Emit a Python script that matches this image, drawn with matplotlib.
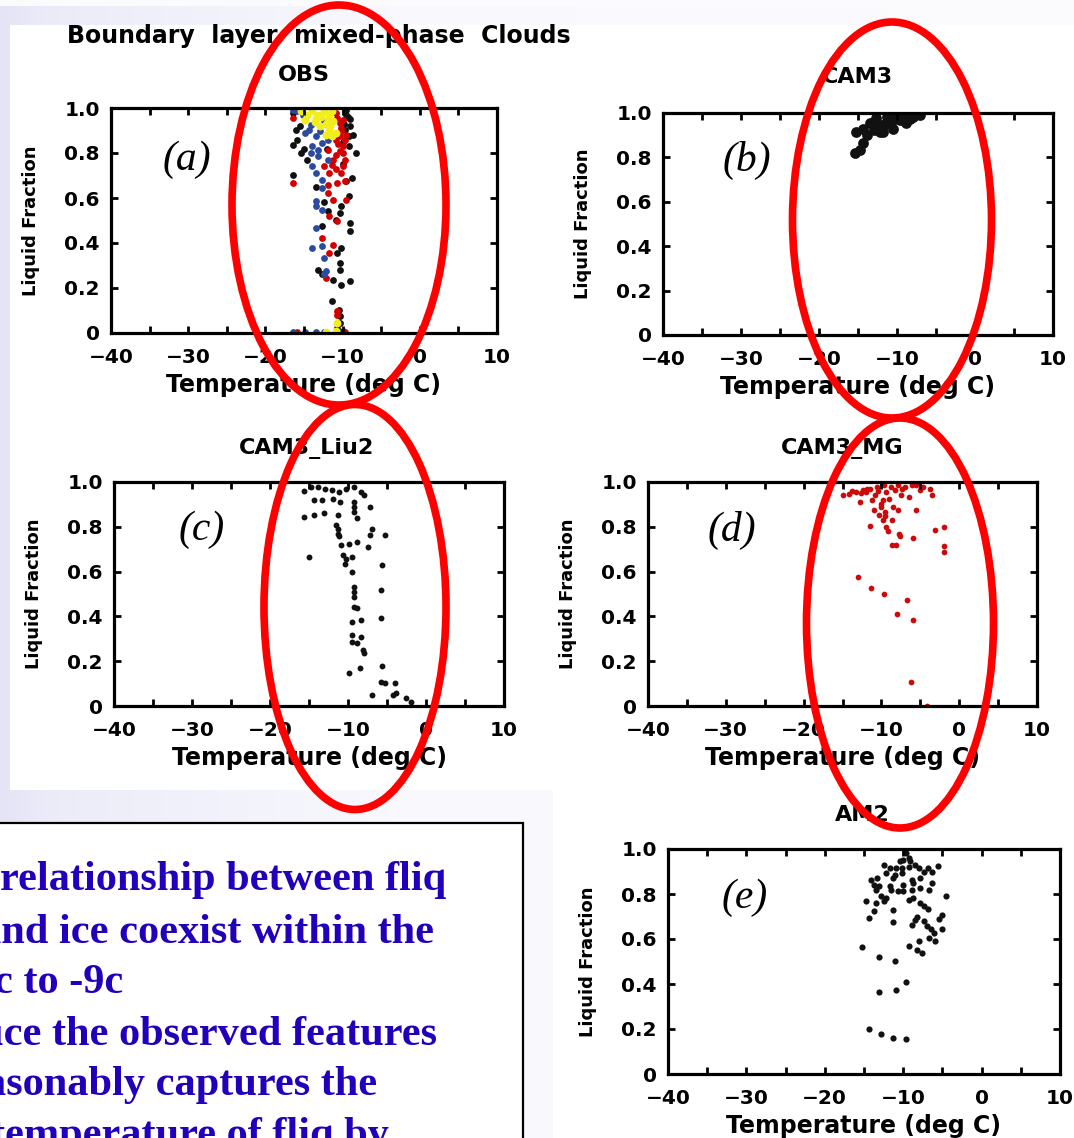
import numpy as np
import matplotlib
matplotlib.use("Agg")
import matplotlib.pyplot as plt
from matplotlib.patches import Ellipse, Rectangle

W, H = 1074, 1138

# ---------------- data (temperature in deg C, liquid fraction) ----------------
# (a) OBS, four colours of points
a_black_T = [-16.4, -9.5, -9.0, -9.2, -15.9, -16.4, -15.4, -8.2, -16.4, -9.5, -13.4, -9.2,
             -12.4, -10.2, -11.9, -10.4, -10.9, -9.0, -9.0, -12.7, -10.2, -10.7, -10.4, -10.4,
             -13.2, -12.7, -11.2, -10.2, -9.1, -11.4, -10.5, -10.4, -10.3, -9.9, -10.7, -9.0,
             -9.7, -10.0, -15.5, -15.0, -12.0, -8.7, -9.6, -16.0, -14.6, -9.3, -9.8, -9.2,
             -10.0, -8.8]
a_black_LF = [0.978, 0.97, 0.92, 0.874, 0.86, 0.837, 0.80, 0.80, 0.70, 0.674, 0.65, 0.61,
              0.58, 0.563, 0.54, 0.533, 0.504, 0.489, 0.452, 0.474, 0.378, 0.356, 0.311, 0.281,
              0.281, 0.26, 0.237, 0.215, 0.23, 0.141, 0.104, 0.074, 0.044, 0.007, 0.022, 0.95,
              0.90, 0.85, 0.92, 0.82, 0.82, 0.88, 0.99, 0.90, 0.77, 0.96, 0.93, 0.83,
              0.75, 0.69]
a_red_T = [-16.4, -10.9, -10.4, -10.2, -10.9, -9.9, -11.9, -10.9, -9.7, -11.4, -9.9, -11.7,
           -12.4, -16.4, -10.7, -9.7, -11.9, -11.2, -9.5, -11.7, -10.7, -12.7, -11.2, -11.7,
           -12.2, -10.7, -10.7, -9.7, -15.9, -10.7, -9.9, -10.4, -9.7, -10.4, -11.2, -10.2, -11.9,
           -10.2, -9.6, -10.6, -9.9, -10.9]
a_red_LF = [0.955, 0.978, 0.933, 0.896, 0.859, 0.83, 0.815, 0.793, 0.77, 0.748, 0.741, 0.711,
            0.741, 0.667, 0.667, 0.674, 0.622, 0.593, 0.593, 0.519, 0.496, 0.422, 0.393, 0.356,
            0.244, 0.096, 0.081, 0.003, 0.003, 0.956, 0.948, 0.874, 0.859, 0.807, 0.77, 0.711, 0.659,
            0.91, 0.88, 0.84, 0.80, 0.73]
a_blue_T = [-16.4, -14.9, -14.4, -13.4, -12.7, -13.9, -14.1, -13.2, -11.9, -13.9, -13.4, -12.7,
            -12.7, -13.4, -12.7, -13.4, -13.4, -12.7, -13.9, -12.4, -12.2, -12.4, -12.4, -12.9,
            -15.1, -15.9, -14.1, -14.9, -11.9, -13.2, -16.4, -14.9, -13.4, -12.4]
a_blue_LF = [0.99, 0.96, 0.904, 0.874, 0.844, 0.83, 0.80, 0.785, 0.77, 0.74, 0.71, 0.68,
             0.644, 0.585, 0.548, 0.563, 0.467, 0.385, 0.378, 0.333, 0.274, 0.26, 0.941, 0.896,
             0.97, 0.985, 0.926, 0.889, 0.859, 0.815, 0.003, 0.003, 0.003, 0.003]
a_yellow_T = [-15.4, -13.9, -12.4, -11.4, -14.9, -13.4, -11.9, -11.2, -12.9, -11.7, -11.4,
              -10.9, -12.2, -13.2, -14.6, -12.8, -11.8, -13.6, -12.2, -11.6, -10.7, -10.9, -12.2]
a_yellow_LF = [0.985, 0.985, 0.985, 0.985, 0.948, 0.956, 0.948, 0.941, 0.919, 0.904, 0.874,
               0.889, 0.881, 0.97, 0.97, 0.96, 0.97, 0.94, 0.93, 0.92, 0.044, 0.007, 0.003]

# (b) CAM3
b_T = [-15.4, -14.7, -14.3, -15.2, -14.3, -13.9, -13.5, -13.0, -12.7, -12.2, -12.2, -11.8,
       -11.3, -10.9, -10.5, -10.0, -9.6, -8.8, -7.9, -7.1, -13.0, -11.5, -9.2, -8.3, -12.6, -10.2]
b_LF = [0.818, 0.833, 0.863, 0.916, 0.93, 0.90, 0.953, 0.923, 0.976, 0.946, 0.916, 0.916,
        0.983, 0.953, 0.93, 0.99, 0.968, 0.953, 0.983, 0.99, 0.96, 0.95, 0.985, 0.975, 0.935, 0.975]

# (c) CAM3_Liu2
c_T = [-15.7, -14.7, -13.8, -12.9, -12.0, -11.1, -10.2, -9.2, -8.3, -7.9, -14.4, -13.3,
       -11.9, -11.0, -9.2, -9.2, -7.2, -9.2, -8.8, -15.7, -14.3, -13.1, -11.3, -11.5, -11.3,
       -11.3, -11.1, -6.9, -7.2, -5.3, -9.9, -8.8, -7.4, -10.9, -15.0, -10.6, -10.2, -9.5,
       -10.4, -5.6, -9.5, -9.2, -9.2, -9.2, -5.8, -9.2, -8.8, -9.5, -8.3, -5.8, -9.5, -8.3,
       -9.5, -8.8, -8.1, -7.9, -9.9, -8.5, -5.6, -5.8, -5.3, -4.0, -6.9, -4.2, -3.8, -2.6, -1.9]
c_LF = [0.96, 0.978, 0.978, 0.97, 0.963, 0.955, 0.97, 0.978, 0.955, 0.94, 0.918, 0.918,
        0.925, 0.91, 0.91, 0.889, 0.889, 0.866, 0.838, 0.844, 0.851, 0.86, 0.851, 0.81, 0.788,
        0.766, 0.757, 0.792, 0.762, 0.762, 0.725, 0.733, 0.711, 0.72, 0.666, 0.673, 0.658, 0.666,
        0.636, 0.628, 0.599, 0.532, 0.51, 0.487, 0.52, 0.443, 0.436, 0.376, 0.383, 0.394, 0.316,
        0.309, 0.287, 0.28, 0.25, 0.235, 0.146, 0.168, 0.178, 0.108, 0.101, 0.104, 0.049, 0.049,
        0.056, 0.034, 0.019]

# (d) CAM3_MG
d_T = [-14.9, -14.2, -13.3, -12.4, -11.5, -10.6, -9.7, -8.8, -7.9, -7.0, -6.1, -5.5, -4.6,
       -3.7, -3.5, -5.1, -12.7, -11.2, -9.8, -9.0, -7.5, -6.4, -11.0, -10.1, -9.6, -8.5, -7.9,
       -5.5, -10.3, -9.8, -8.6, -9.4, -9.2, -11.5, -7.7, -7.6, -5.9, -3.1, -2.0, -8.6, -8.1,
       -2.0, -2.0, -13.0, -11.4, -9.7, -6.7, -8.0, -6.0, -6.2, -4.2, -13.8, -12.0, -10.8,
       -12.6, -11.8, -10.5, -9.4, -8.3, -7.3, -10.0, -9.6]
d_LF = [0.94, 0.948, 0.955, 0.963, 0.97, 0.978, 0.985, 0.978, 0.985, 0.978, 0.985, 0.985, 0.978,
        0.97, 0.94, 0.963, 0.91, 0.918, 0.918, 0.925, 0.94, 0.935, 0.874, 0.889, 0.866, 0.889,
        0.874, 0.874, 0.851, 0.829, 0.829, 0.80, 0.78, 0.802, 0.77, 0.758, 0.752, 0.785, 0.80,
        0.718, 0.718, 0.713, 0.688, 0.574, 0.529, 0.499, 0.473, 0.409, 0.386, 0.105, 0.0, 0.96,
        0.955, 0.94, 0.95, 0.97, 0.96, 0.955, 0.965, 0.97, 0.90, 0.85]

# (e) AM2
e_T = [-9.6, -9.3, -10.0, -10.4, -9.1, -8.5, -8.0, -12.4, -11.7, -10.9, -10.2, -9.3, -6.9,
       -5.6, -12.2, -11.1, -10.2, -7.4, -6.3, -14.1, -13.3, -11.3, -8.9, -7.8, -6.3, -13.7,
       -13.1, -11.7, -10.0, -8.7, -7.8, -13.5, -11.5, -10.7, -10.0, -8.9, -6.7, -12.8, -12.2,
       -9.3, -8.7, -4.5, -14.8, -13.5, -12.4, -7.8, -7.4, -13.7, -11.3, -6.9, -5.0, -8.3, -14.4,
       -5.4, -8.5, -7.4, -11.3, -8.9, -7.0, -6.5, -5.0, -6.1, -6.7, -5.9, -8.0, -9.3, -8.3,
       -7.6, -15.2, -13.1, -11.1, -9.6, -10.9, -13.1, -14.4, -12.8, -11.3, -9.6]
e_LF = [0.982, 0.96, 0.953, 0.945, 0.945, 0.93, 0.916, 0.93, 0.916, 0.916, 0.916, 0.92, 0.916,
        0.923, 0.893, 0.886, 0.893, 0.90, 0.90, 0.864, 0.871, 0.871, 0.864, 0.871, 0.849, 0.841,
        0.834, 0.834, 0.841, 0.849, 0.827, 0.819, 0.819, 0.812, 0.812, 0.819, 0.819, 0.79, 0.782,
        0.775, 0.782, 0.79, 0.767, 0.76, 0.767, 0.76, 0.745, 0.723, 0.73, 0.735, 0.708, 0.70,
        0.693, 0.689, 0.686, 0.678, 0.674, 0.664, 0.659, 0.644, 0.644, 0.627, 0.604, 0.59, 0.59,
        0.567, 0.553, 0.538, 0.563, 0.519, 0.504, 0.407, 0.375, 0.364, 0.201, 0.178, 0.16, 0.156]

x_major = [-40, -30, -20, -10, 0, 10]
x_labels = ["\u221240", "\u221230", "\u221220", "\u221210", "0", "10"]
x_minor = [-35, -25, -15, -5, 5]
y_ticks = [0, 0.2, 0.4, 0.6, 0.8, 1.0]
y_labels = ["0", "0.2", "0.4", "0.6", "0.8", "1.0"]

panel_titles = ["OBS", "CAM3", "CAM3_Liu2", "CAM3_MG", "AM2"]
panel_letters = ["(a)", "(b)", "(c)", "(d)", "(e)"]
main_title = "Boundary  layer  mixed-phase  Clouds"
note_lines = ["relationship between fliq",
              "and ice coexist within the",
              "c to -9c",
              "uce the observed features",
              "asonably captures the",
              "temperature of fliq by"]

# ---------------- figure ----------------
fig = plt.figure(figsize=(W / 100, H / 100), dpi=100)
idl = dict(family="DejaVu Sans", weight="bold", color="black")

# slide background, pixel coordinates
bg = fig.add_axes([0, 0, 1, 1])
bg.set_xlim(0, W)
bg.set_ylim(H, 0)
bg.axis("off")
ramp = np.interp(np.arange(W), [0, 60, 400, W], [0, 0.35, 0.85, 1.0])
c0 = np.array([228, 228, 246]) / 255
c1 = np.array([252, 252, 255]) / 255
img = c0[None, None, :] + (c1 - c0)[None, None, :] * ramp[None, :, None]
bg.imshow(img, extent=[0, W, H, 0], aspect="auto")
bg.add_patch(Rectangle((0, 0), W, 6, fc="#fbfbfe", ec="none"))
bg.add_patch(Rectangle((10, 25), W - 10, 765, fc="white", ec="none"))
bg.add_patch(Rectangle((553, 790), W - 553, H - 790, fc="white", ec="none"))
bg.add_patch(Rectangle((-5, 823), 528, 340, fc="white", ec="black", lw=1.6))

note_x = [0, -20, -6, -20, -15, -9]
note_y = [890, 943, 993, 1045, 1095, 1146]
for s, x, y in zip(note_lines, note_x, note_y):
    bg.text(x, y, s, family="Liberation Serif", weight="bold", fontsize=30.5,
            color="#2200bb", ha="left", va="baseline")

bg.text(67, 36, main_title, fontsize=17, ha="left", va="center", **idl)

# panel boxes in pixels: left, top, right, bottom
boxes = [(111, 108, 497, 333), (663, 113, 1053, 335), (114, 482, 504, 706),
         (648, 482, 1037, 706), (668, 849, 1060, 1074)]


def make_panel(box):
    x0, y0, x1, y1 = box
    ax = fig.add_axes([x0 / W, 1 - y1 / H, (x1 - x0) / W, (y1 - y0) / H])
    ax.set_xlim(-40, 10)
    ax.set_ylim(0, 1)
    ax.set_xticks(x_major)
    ax.set_xticklabels(x_labels)
    ax.set_xticks(x_minor, minor=True)
    ax.set_yticks(y_ticks)
    ax.set_yticklabels(y_labels)
    ax.tick_params(which="both", direction="in", length=5, width=2,
                   top=True, right=True, labelsize=14.5)
    ax.tick_params(axis="x", pad=11)
    ax.tick_params(axis="y", pad=8)
    for lab in ax.get_xticklabels() + ax.get_yticklabels():
        lab.set_fontweight("bold")
    for sp in ax.spines.values():
        sp.set_linewidth(2.3)
    wpx, hpx = x1 - x0, y1 - y0
    ax.text(0.5, -52 / hpx, "Temperature (deg C)", transform=ax.transAxes,
            ha="center", va="center", fontsize=17, **idl)
    ax.text(-80 / wpx, 0.5, "Liquid Fraction", transform=ax.transAxes, rotation=90,
            ha="center", va="center", fontsize=13, **idl)
    return ax


axes = [make_panel(b) for b in boxes]

ax = axes[0]
ax.scatter(a_black_T, a_black_LF, s=24, c="#111111", lw=0)
ax.scatter(a_red_T, a_red_LF, s=24, c="#d40000", lw=0)
ax.scatter(a_blue_T, a_blue_LF, s=24, c="#2c4a9e", lw=0)
ax.scatter(a_yellow_T, a_yellow_LF, s=32, c="#f2ee1e", lw=0)

axes[1].scatter(b_T, b_LF, s=60, c="#111111", lw=0)
axes[2].scatter(c_T, c_LF, s=18, c="#111111", lw=0)
axes[3].scatter(d_T, d_LF, s=17, c="#cc0a0a", lw=0)
axes[4].scatter(e_T, e_LF, s=20, c="#111111", lw=0)

# overlay: titles, panel letters and the red ellipses
ov = fig.add_axes([0, 0, 1, 1], zorder=5)
ov.set_xlim(0, W)
ov.set_ylim(H, 0)
ov.axis("off")

title_xy = [(304, 75), (857, 77), (307, 448), (842, 448), (862, 815)]
letter_xy = [(187, 160), (747, 160), (202, 530), (732, 530), (745, 898)]
for t, (x, y) in zip(panel_titles, title_xy):
    ov.text(x, y, t, fontsize=16, ha="center", va="center", **idl)
for t, (x, y) in zip(panel_letters, letter_xy):
    ov.text(x, y, t, family="Liberation Serif", style="italic", fontsize=30,
            ha="center", va="center", color="black")

ellipses = [(339, 205, 214, 400), (892, 220, 199, 396), (355, 607, 182, 405),
            (900, 623, 187, 410)]
for cx, cy, w, h in ellipses:
    ov.add_patch(Ellipse((cx, cy), w, h, fill=False, ec="#ff0000", lw=5.5, zorder=10))

fig.savefig("out.png", dpi=100)
